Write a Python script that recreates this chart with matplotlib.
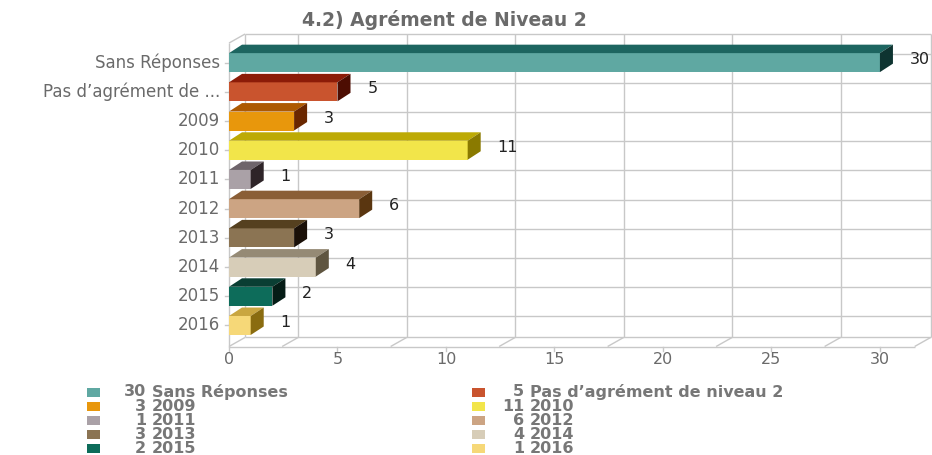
import matplotlib
matplotlib.use("Agg")
import matplotlib.pyplot as plt
import matplotlib.patches as patches

# data
categories = ["Sans Réponses", "Pas d’agrément de niveau 2", "2009", "2010", "2011",
              "2012", "2013", "2014", "2015", "2016"]
tick_labels = ["Sans Réponses", "Pas d’agrément de ...", "2009", "2010", "2011",
               "2012", "2013", "2014", "2015", "2016"]
values = [30, 5, 3, 11, 1, 6, 3, 4, 2, 1]
x_ticks = [0, 5, 10, 15, 20, 25, 30]
title = "4.2) Agrément de Niveau 2"

# front / top / side colours of each bar
front_colors = ["#5fa8a2", "#c9542e", "#e8970c", "#f2e54a", "#aaa1a7",
                "#cca483", "#8b7453", "#d7cdb8", "#0d6c5a", "#f6d878"]
top_colors = ["#1d6560", "#8c1c08", "#ad5a02", "#bdaa05", "#6e646b",
              "#8a5e36", "#55401f", "#958a75", "#0a3e33", "#c9a640"]
side_colors = ["#0e3431", "#4d0d02", "#6a2700", "#8a7a00", "#2e2428",
               "#5a3610", "#1a1008", "#5f5540", "#051c16", "#8a6c10"]

GRID = "#c8c8c8"
TXT = "#6a6a6a"

W, H = 932, 455
fig = plt.figure(figsize=(W / 100, H / 100), dpi=100)
ax = fig.add_axes([229 / W, (H - 346.5) / H, 703 / W, 312.5 / H])
ax.set_xlim(0, 32.4)
ax.set_ylim(-0.72, 9.98)
ax.axis("off")

n = len(categories)
ypos = [n - 1 - i for i in range(n)]

# walls (depth offset of the box)
wdx, wdy = 0.74, 0.31
y_front, y_back = -0.72, -0.72 + wdy
x_end = 31.6
y_top = 9.98


def line(xs, ys):
    ax.plot(xs, ys, color=GRID, lw=1, solid_capstyle="butt", zorder=1, clip_on=False)


line([0, x_end], [y_front, y_front])
line([wdx, x_end + wdx], [y_back, y_back])
line([wdx, x_end + wdx], [y_top, y_top])
line([0, 0], [y_front, y_top - wdy])
line([0, wdx], [y_top - wdy, y_top])
line([x_end + wdx, x_end + wdx], [y_back, y_top])
line([wdx, wdx], [y_back, y_top])
grid_x = [g + 2.45 for g in x_ticks[:-1]]
for gx in [0] + grid_x + [x_end]:
    line([gx, gx + wdx], [y_front, y_back])
for gx in grid_x:
    line([gx + wdx, gx + wdx], [y_back, y_top])
for y in ypos:
    line([0, wdx], [y, y + wdy])
    line([wdx, x_end + wdx], [y + wdy, y + wdy])

# x ticks and labels
for t in x_ticks:
    ax.plot([t, t], [y_front, y_front - 0.14], color=GRID, lw=1, clip_on=False, zorder=1)
    ax.text(t, -1.17, str(t), ha="center", va="center", fontsize=11.5, color=TXT, clip_on=False)

# y ticks and labels
for y, lab in zip(ypos, tick_labels):
    ax.plot([-0.18, 0], [y, y], color=GRID, lw=1, clip_on=False, zorder=1)
    ax.text(-0.42, y, lab, ha="right", va="center", fontsize=12, color=TXT, clip_on=False)

# 3d bars
bh = 0.65
ddx, ddy = 0.6, 0.29
for y, v, fc, tc, sc in zip(ypos, values, front_colors, top_colors, side_colors):
    y0, y1 = y - bh / 2, y + bh / 2
    ax.add_patch(patches.Rectangle((0, y0), v, bh, facecolor=fc, edgecolor="none", zorder=3))
    ax.add_patch(patches.Polygon([(0, y1), (v, y1), (v + ddx, y1 + ddy), (ddx, y1 + ddy)],
                                 closed=True, facecolor=tc, edgecolor="none", zorder=3))
    ax.add_patch(patches.Polygon([(v, y0), (v + ddx, y0 + ddy), (v + ddx, y1 + ddy), (v, y1)],
                                 closed=True, facecolor=sc, edgecolor="none", zorder=3))
    ax.text(v + ddx + 0.78, y + 0.1, str(v), ha="left", va="center", fontsize=11.5,
            color="#222222", clip_on=False, zorder=4)

# title
fig.text(444 / W, 1 - 20 / H, title, ha="center", va="center", fontsize=13.5,
         fontweight="bold", color=TXT)

# legend, row-major in two columns
for i, (v, name, fc) in enumerate(zip(values, categories, front_colors)):
    col, row = i % 2, i // 2
    yc = 392 + row * 14.1
    sq_x = 87 + col * 385
    fig.patches.append(patches.Rectangle((sq_x / W, 1 - (yc + 4.5) / H), 13 / W, 9 / H,
                                         transform=fig.transFigure, facecolor=fc,
                                         edgecolor="none"))
    num_x = 146 + col * 378
    fig.text(num_x / W, 1 - yc / H, str(v), ha="right", va="center", fontsize=11.5,
             fontweight="bold", color="#777777")
    fig.text((num_x + 6) / W, 1 - yc / H, name, ha="left", va="center", fontsize=11.5,
             fontweight="bold", color="#777777")

fig.savefig("out.png", dpi=100, facecolor="white")
